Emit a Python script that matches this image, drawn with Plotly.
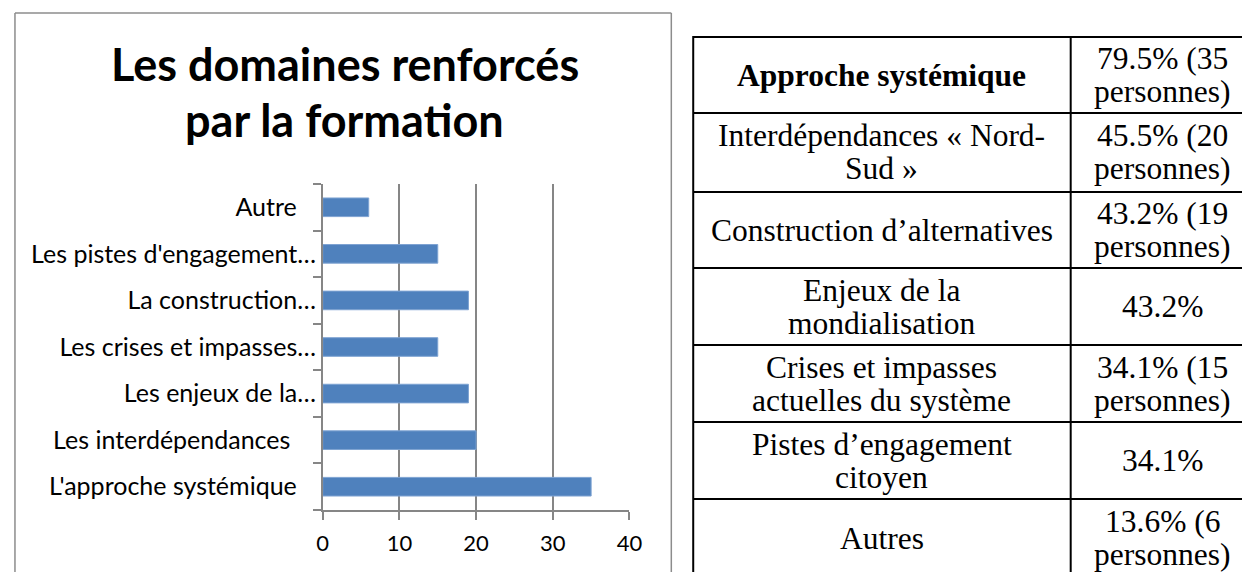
import plotly.graph_objects as go

# ---------------- data ----------------
categories = [
    "L'approche systémique",
    "Les interdépendances",
    "Les enjeux de la…",
    "Les crises et impasses…",
    "La construction…",
    "Les pistes d'engagement…",
    "Autre",
]
values = [35, 20, 19, 15, 19, 15, 6]
x_ticks = [0, 10, 20, 30, 40]

title_lines = ["Les domaines renforcés", "par la formation"]

table_left = [
    ["Approche systémique"],
    ["Interdépendances « Nord-", "Sud »"],
    ["Construction d’alternatives"],
    ["Enjeux de la", "mondialisation"],
    ["Crises et impasses", "actuelles du système"],
    ["Pistes d’engagement", "citoyen"],
    ["Autres"],
]
table_right = [
    ["79.5% (35", "personnes)"],
    ["45.5% (20", "personnes)"],
    ["43.2% (19", "personnes)"],
    ["43.2%"],
    ["34.1% (15", "personnes)"],
    ["34.1%"],
    ["13.6% (6", "personnes)"],
]

# ---------------- layout helpers ----------------
W, H = 1242, 572          # reference picture size (positions below are in its pixels)
FIG_W = 1256              # figure width (compensates a slight horizontal squeeze seen in capture)
def px(x):
    return min(max(x, 0), W) / W
def py(y):
    return 1 - min(max(y, 0), H) / H

# label padding so that untruncated labels sit a bit further left
pad = {"L'approche systémique": 3, "Les interdépendances": 4, "Autre": 3}
ticktext = [c + "\u00a0" * pad.get(c, 0) for c in categories]

fig = go.Figure()
fig.add_trace(go.Bar(
    x=values, y=categories, orientation="h", width=0.4,
    marker=dict(color="#4F81BD", line=dict(width=1, color="#7EA3D2")),
    hoverinfo="x+y", showlegend=False,
))

GRAY = "#868686"
fig.update_layout(
    width=FIG_W, height=H,
    margin=dict(l=0, r=0, t=0, b=0),
    paper_bgcolor="white", plot_bgcolor="white",
    xaxis=dict(
        domain=[px(318), px(626)], range=[0, 40], tickvals=x_ticks,
        showgrid=True, gridcolor=GRAY, gridwidth=1.5, zeroline=False,
        showline=True, linecolor=GRAY, linewidth=1.5,
        ticks="outside", ticklen=8, tickcolor=GRAY, tickwidth=1.5,
        ticklabelstandoff=5,
        tickfont=dict(family="Lato", size=22, color="black"),
        fixedrange=True,
    ),
    yaxis=dict(
        domain=[py(510), py(184)],
        categoryorder="array", categoryarray=categories,
        tickmode="array", tickvals=categories, ticktext=ticktext,
        tickson="boundaries", ticks="outside", ticklen=8, tickcolor=GRAY, tickwidth=1.5,
        showline=True, linecolor=GRAY, linewidth=1.5, showgrid=False,
        tickfont=dict(family="Lato", size=25, color="black"),
        fixedrange=True,
    ),
)

shapes = []
annotations = []

def seg(x0, y0, x1, y1, color, width):
    shapes.append(dict(type="line", xref="paper", yref="paper",
                       x0=px(x0), x1=px(x1), y0=py(y0), y1=py(y1),
                       line=dict(color=color, width=width)))

# chart frame (open at the bottom, it continues below the window)
FR = "#8c8c8c"
seg(9, 13, 668, 13, FR, 1.5)
seg(9, 13, 9, H, FR, 1.5)
seg(668, 13, 668, H, FR, 1.5)

# title
title_y = [64, 120]
for t, yy in zip(title_lines, title_y):
    annotations.append(dict(text="<b>" + t + "</b>", x=px(340), y=py(yy),
                            xref="paper", yref="paper", showarrow=False,
                            xanchor="center", yanchor="middle",
                            font=dict(family="Lato", size=45, color="black")))

# table
row_edges = [37, 113, 192, 268, 345, 422, 499, 577]
col_left, col_div, col_right = 690, 1069, W
lw = 2
seg(col_left, row_edges[0] - 1, col_left, H, "black", lw)
seg(col_div, row_edges[0], col_div, H, "black", lw)
for ye in row_edges:
    if ye < H:
        seg(col_left, ye, col_right, ye, "black", lw)

left_cx = (col_left + col_div) / 2
right_cx = 1161
line_gap = 33
for i, (lcell, rcell) in enumerate(zip(table_left, table_right)):
    cy = (row_edges[i] + row_edges[i + 1]) / 2
    for cell, cx in ((lcell, left_cx), (rcell, right_cx)):
        n = len(cell)
        for k, line in enumerate(cell):
            yy = cy + (k - (n - 1) / 2) * line_gap
            txt = "<b>" + line + "</b>" if i == 0 and cx == left_cx else line
            annotations.append(dict(text=txt, x=px(cx), y=py(yy),
                                    xref="paper", yref="paper", showarrow=False,
                                    xanchor="center", yanchor="middle",
                                    font=dict(family="Liberation Serif", size=31.5, color="black")))

fig.update_layout(shapes=shapes, annotations=annotations)
# remove the page's default margin/scrollbars so the figure sits at the window origin
page_js = (
    "document.documentElement.style.margin='0';"
    "document.documentElement.style.padding='0';"
    "document.documentElement.style.overflow='hidden';"
    "document.body.style.margin='0';"
    "document.body.style.padding='0';"
    "document.body.style.overflow='hidden';"
)
fig.write_html("out.html", config={"displayModeBar": False}, post_script=page_js)
